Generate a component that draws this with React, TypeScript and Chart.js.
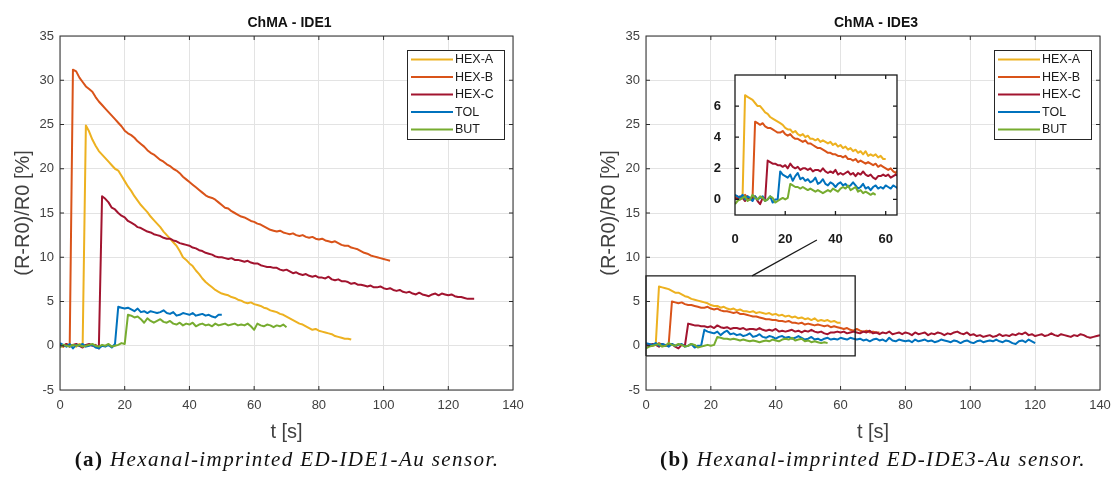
import { useEffect, useRef } from 'react';
import { Chart, registerables } from 'chart.js';

Chart.register(...registerables);

const FONT = '"Liberation Sans", Arial, sans-serif';

const SERIES_NAMES = ['HEX-A', 'HEX-B', 'HEX-C', 'TOL', 'BUT'];
const SERIES_COLORS = ['#EDB120', '#D95319', '#A2142F', '#0072BD', '#77AC30'];
const TIME_STEP = 1; // seconds between samples

const X_TICKS = [0, 20, 40, 60, 80, 100, 120, 140];
const Y_TICKS = [-5, 0, 5, 10, 15, 20, 25, 30, 35];
const INSET_X_TICKS = [0, 20, 40, 60];
const INSET_Y_TICKS = [0, 2, 4, 6];

// ---------- ChMA - IDE1 ----------
const IDE1_HEX_A = [
  0.1, -0.1, 0.2, 0.0, 0.1, -0.1, 0.2, 0.1,
  24.9, 24.2, 23.3, 22.6, 22.0, 21.6, 21.2, 20.8, 20.4, 20.0, 19.8, 19.2, 18.6, 18.0, 17.5, 16.9,
  16.4, 15.9, 15.5, 15.1, 14.6, 14.2, 13.8, 13.4, 12.9, 12.5, 12.1, 11.7, 11.3, 10.7, 10.0, 9.7,
  9.3, 9.0, 8.5, 8.1, 7.6, 7.2, 6.9, 6.6, 6.3, 6.1, 5.9, 5.8, 5.7, 5.5, 5.4, 5.2, 5.1, 4.9, 4.8,
  4.9, 4.7, 4.6, 4.5, 4.3, 4.2, 4.0, 3.9, 3.8, 3.6, 3.5, 3.3, 3.1, 2.9, 2.7, 2.5, 2.4, 2.2, 2.0,
  1.8, 1.9, 1.7, 1.6, 1.5, 1.4, 1.3, 1.1, 1.0, 0.9, 0.8, 0.8, 0.7,
];
const IDE1_HEX_B = [
  0.2, -0.1, 0.1, 0.0,
  31.2, 31.0, 30.3, 29.8, 29.3, 29.0, 28.7, 28.1, 27.6, 27.2, 26.8, 26.4, 26.0, 25.6, 25.2, 24.8,
  24.3, 24.0, 23.8, 23.5, 23.1, 22.8, 22.5, 22.1, 21.8, 21.6, 21.3, 21.0, 20.8, 20.5, 20.3, 20.0,
  19.8, 19.5, 19.1, 18.8, 18.5, 18.2, 17.9, 17.6, 17.3, 17.0, 16.8, 16.7, 16.5, 16.2, 15.9, 15.6,
  15.5, 15.2, 15.0, 14.8, 14.6, 14.5, 14.3, 14.1, 14.0, 13.8, 13.7, 13.5, 13.3, 13.1, 13.0, 12.9,
  13.0, 12.8, 12.7, 12.6, 12.7, 12.5, 12.4, 12.5, 12.3, 12.2, 12.3, 12.1, 12.0, 12.1, 11.9, 11.8,
  11.7, 11.8, 11.6, 11.4, 11.3, 11.3, 11.1, 11.0, 10.9, 10.7, 10.5, 10.4, 10.2, 10.1, 10.0, 9.9,
  9.8, 9.7, 9.6,
];
const IDE1_HEX_C = [
  0.1, 0.0, 0.2, -0.1, 0.1, 0.2, 0.0, -0.2, 0.1, 0.2, 0.0, 0.1, -0.3,
  16.9, 16.6, 16.2, 15.6, 15.4, 15.0, 14.7, 14.5, 14.1, 13.9, 13.7, 13.4, 13.3, 13.1, 12.9, 12.8,
  12.6, 12.5, 12.4, 12.2, 12.1, 12.1, 11.9, 11.8, 11.6, 11.5, 11.4, 11.3, 11.1, 11.0, 10.8, 10.7,
  10.5, 10.4, 10.3, 10.1, 10.0, 10.0, 9.9, 9.8, 9.9, 9.7, 9.7, 9.6, 9.5, 9.6, 9.4, 9.3, 9.3, 9.1,
  9.0, 8.9, 8.9, 8.8, 8.8, 8.6, 8.5, 8.6, 8.4, 8.2, 8.3, 8.1, 8.0, 8.1, 7.9, 7.8, 7.9, 7.7, 7.7,
  7.6, 7.8, 7.5, 7.4, 7.5, 7.3, 7.3, 7.2, 7.0, 7.1, 6.9, 6.9, 6.8, 6.7, 6.8, 6.6, 6.6, 6.7, 6.5,
  6.4, 6.5, 6.3, 6.2, 6.3, 6.1, 6.0, 6.1, 5.9, 5.8, 6.0, 5.8, 5.7, 5.6, 5.8, 5.9, 5.7, 5.9, 5.8,
  5.7, 5.8, 5.6, 5.5, 5.5, 5.4, 5.3, 5.3, 5.3,
];
const IDE1_TOL = [
  0.3, 0.1, -0.1, 0.2, -0.3, 0.1, 0.0, 0.2, -0.1, 0.0, 0.1, -0.2, -0.3, 0.0, -0.1, 0.1, -0.2, 0.2,
  4.4, 4.3, 4.2, 4.3, 4.1, 3.9, 4.2, 3.8, 3.9, 3.7, 3.9, 3.8, 3.7, 3.8, 4.0, 3.7, 3.6, 3.8, 3.4,
  3.5, 3.7, 3.6, 3.5, 3.7, 3.4, 3.5, 3.6, 3.4, 3.5, 3.3, 3.2, 3.5, 3.5,
];
const IDE1_BUT = [
  -0.2, 0.1, 0.0, -0.1, 0.1, 0.0, 0.1, -0.1, 0.0, 0.1, 0.2, 0.0, -0.1, 0.1, 0.0, 0.2, -0.1, 0.0,
  0.1, 0.3, 0.2,
  3.5, 3.4, 3.2, 3.3, 3.0, 2.6, 3.1, 2.8, 2.6, 2.8, 3.0, 2.7, 2.6, 2.8, 2.5, 2.4, 2.6, 2.3, 2.5,
  2.4, 2.6, 2.2, 2.4, 2.5, 2.3, 2.4, 2.2, 2.5, 2.3, 2.4, 2.5, 2.3, 2.4, 2.5, 2.3, 2.4, 2.3, 2.5,
  2.2, 1.8, 2.5, 2.3, 2.2, 2.4, 2.3, 2.1, 2.3, 2.2, 2.4, 2.1,
];

// ---------- ChMA - IDE3 ----------
const IDE3_HEX_A = [
  0.2, 0.0, 0.1, 0.1,
  6.7, 6.6, 6.5, 6.4, 6.2, 6.0, 6.0, 5.8, 5.6, 5.5, 5.3, 5.2, 5.1, 5.0, 4.9, 4.8, 4.6, 4.5, 4.5,
  4.3, 4.4, 4.2, 4.1, 4.2, 4.0, 4.1, 3.9, 3.9, 3.8, 3.9, 3.7, 3.8, 3.7, 3.6, 3.7, 3.5, 3.6, 3.4,
  3.5, 3.3, 3.4, 3.2, 3.3, 3.1, 3.2, 3.0, 3.1, 2.9, 3.1, 2.8, 2.9, 2.8, 2.9, 2.7, 2.8, 2.6, 2.6,
];
const IDE3_HEX_B = [
  0.1, 0.2, 0.0, 0.1, 0.3, 0.1, 0.0, 0.2,
  5.0, 4.9, 4.8, 4.9, 4.7, 4.6, 4.6, 4.5, 4.4, 4.3, 4.3, 4.4, 4.2, 4.1, 4.2, 4.0, 3.9, 3.9, 3.8,
  3.7, 3.8, 3.6, 3.6, 3.5, 3.4, 3.3, 3.3, 3.2, 3.1, 3.0, 3.0, 2.9, 2.9, 2.8, 2.8, 2.7, 2.8, 2.6,
  2.6, 2.5, 2.6, 2.4, 2.5, 2.4, 2.3, 2.4, 2.3, 2.2, 2.3, 2.1, 2.2, 2.1, 2.0, 1.9, 2.0, 1.8, 1.7,
  1.9, 1.7, 1.6, 1.7, 1.5, 1.6, 1.5, 1.5,
];
const IDE3_HEX_C = [
  0.1, 0.0, 0.2, 0.1, -0.1, 0.2, 0.0, 0.1, 0.2, -0.1, -0.3, 0.1, 0.0,
  2.5, 2.4, 2.3, 2.3, 2.2, 2.2, 2.1, 2.2, 2.0, 2.3, 2.1, 2.0, 2.1, 1.9, 2.0, 2.0, 1.9, 2.0, 1.8,
  1.9, 1.9, 1.8, 2.0, 1.8, 1.7, 1.8, 1.7, 1.9, 1.6, 1.7, 1.6, 1.7, 1.8, 1.6, 1.7, 1.5, 1.7, 1.6,
  1.8, 1.6, 1.5, 1.6, 1.4, 1.3, 1.5, 1.5, 1.6, 1.5, 1.6, 1.4, 1.5, 1.6, 1.5, 1.4, 1.6, 1.5, 1.7,
  1.4, 1.5, 1.3, 1.5, 1.4, 1.6, 1.3, 1.4, 1.5, 1.3, 1.5, 1.4, 1.2, 1.5, 1.3, 1.4, 1.5, 1.2, 1.4,
  1.3, 1.5, 1.4, 1.2, 1.4, 1.3, 1.5, 1.6, 1.4, 1.3, 1.5, 1.2, 1.3, 1.1, 1.2, 1.0, 1.1, 1.2, 1.0,
  1.1, 1.3, 1.1, 1.2, 1.1, 1.3, 1.2, 1.4, 1.3, 1.5, 1.2, 1.3, 1.1, 1.2, 1.3, 1.1, 1.2, 1.4, 1.2,
  1.1, 1.3, 1.2, 1.1, 1.0, 1.2, 1.1, 1.3, 1.2, 1.0, 0.9, 1.0, 1.1, 1.2, 1.2,
];
const IDE3_TOL = [
  0.3, 0.2, 0.1, 0.3, 0.0, 0.2, 0.1, -0.1, 0.2, 0.0, 0.1, 0.2, -0.1, 0.0, 0.2, -0.2, 0.0, 0.0,
  1.8, 1.6, 1.5, 1.4, 1.6, 1.2, 1.5, 1.7, 1.3, 1.4, 1.2, 1.3, 1.1, 1.2, 1.4, 1.0, 1.1, 1.3, 1.0,
  0.9, 1.1, 1.0, 0.8, 1.0, 1.1, 0.9, 1.0, 0.8, 0.9, 1.1, 0.9, 0.7, 0.8, 1.0, 0.7, 0.8, 0.6, 0.8,
  0.9, 0.7, 0.8, 0.7, 0.9, 0.8, 0.7, 0.9, 0.8, 0.7, 0.8, 0.6, 0.7, 0.5, 0.7, 0.8, 0.6, 0.7, 0.5,
  0.9, 0.6, 0.5, 0.7, 0.6, 0.5, 0.6, 0.4, 0.7, 0.5, 0.6, 0.7, 0.5, 0.6, 0.4, 0.5, 0.7, 0.6, 0.5,
  0.4, 0.6, 0.5, 0.3, 0.5, 0.6, 0.4, 0.3, 0.5, 0.6, 0.4, 0.5, 0.6, 0.5, 0.7, 0.5, 0.4, 0.6, 0.5,
  0.3, 0.2, 0.5, 0.6, 0.4, 0.7, 0.5, 0.3,
];
const IDE3_BUT = [
  -0.3, -0.1, 0.0, 0.1, 0.2, -0.1, 0.0, 0.3, 0.1, 0.0, 0.2, 0.1, -0.1, 0.0, 0.2, 0.1, -0.2, -0.1,
  0.0, 0.1, 0.0, 0.1,
  1.0, 0.9, 0.8, 0.8, 0.7, 0.8, 0.7, 0.6, 0.7, 0.6, 0.5, 0.6, 0.5, 0.4, 0.5, 0.6, 0.5, 0.7, 0.6,
  0.5, 0.7, 0.8, 0.7, 0.9, 0.6, 0.7, 0.8, 0.5, 0.6, 0.4, 0.5, 0.4, 0.3, 0.4, 0.3,
];

// zoom rectangle and connector in the IDE3 axes (data units)
const ZOOM_BOX_T = [0, 64.5, 64.5, 0, 0];
const ZOOM_BOX_V = [-1.15, -1.15, 7.9, 7.9, -1.15];
const CONNECTOR_T = [32.7, 52.7];
const CONNECTOR_V = [7.9, 11.95];

const IDE1_SERIES = [IDE1_HEX_A, IDE1_HEX_B, IDE1_HEX_C, IDE1_TOL, IDE1_BUT];
const IDE3_SERIES = [IDE3_HEX_A, IDE3_HEX_B, IDE3_HEX_C, IDE3_TOL, IDE3_BUT];

const toPoints = (vals: number[]) => vals.map((v, i) => ({ x: i * TIME_STEP, y: v }));
const zipPoints = (xs: number[], ys: number[]) => xs.map((x, i) => ({ x, y: ys[i] }));

const decorPlugin = {
  id: 'decor',
  beforeDraw(chart: any, _a: any, opts: any) {
    if (!opts.fillArea) return;
    const { ctx, chartArea: a } = chart;
    ctx.save();
    ctx.fillStyle = '#ffffff';
    ctx.fillRect(a.left, a.top, a.right - a.left, a.bottom - a.top);
    ctx.restore();
  },
  afterDatasetsDraw(chart: any, _a: any, opts: any) {
    const { ctx, chartArea: a, scales } = chart;
    ctx.save();
    ctx.strokeStyle = opts.frameColor || '#262626';
    ctx.lineWidth = opts.frameWidth || 1;
    ctx.strokeRect(a.left, a.top, a.right - a.left, a.bottom - a.top);
    const tl = opts.tickLen || 4;
    ctx.beginPath();
    scales.x.ticks.forEach((t: any) => {
      const px = scales.x.getPixelForValue(t.value);
      if (px <= a.left + 1 || px >= a.right - 1) return;
      ctx.moveTo(px, a.bottom);
      ctx.lineTo(px, a.bottom - tl);
      ctx.moveTo(px, a.top);
      ctx.lineTo(px, a.top + tl);
    });
    scales.y.ticks.forEach((t: any) => {
      const py = scales.y.getPixelForValue(t.value);
      if (py <= a.top + 1 || py >= a.bottom - 1) return;
      ctx.moveTo(a.left, py);
      ctx.lineTo(a.left + tl, py);
      ctx.moveTo(a.right, py);
      ctx.lineTo(a.right - tl, py);
    });
    ctx.stroke();

    if (opts.title) {
      ctx.fillStyle = '#111111';
      ctx.font = `bold 14px ${FONT}`;
      ctx.textAlign = 'center';
      ctx.textBaseline = 'middle';
      ctx.fillText(opts.title, (a.left + a.right) / 2 + 3, a.top - 12.5);
    }

    if (opts.legend) {
      const items = chart.data.datasets.filter((d: any) => d.inLegend);
      const boxW = 97;
      const rowH = 17.5;
      const boxH = 89;
      const x0 = a.right - 9 - boxW;
      const y0 = a.top + 14;
      ctx.fillStyle = '#ffffff';
      ctx.fillRect(x0, y0, boxW, boxH);
      ctx.strokeStyle = '#262626';
      ctx.lineWidth = 1;
      ctx.strokeRect(x0 + 0.5, y0 + 0.5, boxW, boxH);
      ctx.font = `12.5px ${FONT}`;
      ctx.textAlign = 'left';
      ctx.textBaseline = 'middle';
      items.forEach((d: any, i: number) => {
        const y = y0 + 9.5 + i * rowH;
        ctx.strokeStyle = d.borderColor;
        ctx.lineWidth = 2;
        ctx.beginPath();
        ctx.moveTo(x0 + 4, y);
        ctx.lineTo(x0 + 46, y);
        ctx.stroke();
        ctx.fillStyle = '#1a1a1a';
        ctx.fillText(d.label, x0 + 48, y + 0.5);
      });
    }
    ctx.restore();
  },
};

const seriesDatasets = (series: number[][]) =>
  series.map((vals, i) => ({
    label: SERIES_NAMES[i],
    data: toPoints(vals),
    borderColor: SERIES_COLORS[i],
    borderWidth: 2,
    pointRadius: 0,
    fill: false,
    tension: 0,
    borderJoinStyle: 'round',
    order: 10 - i,
    inLegend: true,
  }));

const noOverflow = (s: any) => {
  s.paddingLeft = 0;
  s.paddingRight = 0;
  s.paddingTop = 0;
  s.paddingBottom = 0;
};

function mainConfig(series: number[][], title: string, padLeft: number, padRight: number, withZoom: boolean) {
  const datasets: any[] = seriesDatasets(series);
  if (withZoom) {
    datasets.push({
      label: 'zoom box',
      data: zipPoints(ZOOM_BOX_T, ZOOM_BOX_V),
      borderColor: '#1a1a1a',
      borderWidth: 1.3,
      pointRadius: 0,
      fill: false,
      order: 0,
      clip: false,
    });
    datasets.push({
      label: 'connector',
      data: zipPoints(CONNECTOR_T, CONNECTOR_V),
      borderColor: '#1a1a1a',
      borderWidth: 1.3,
      pointRadius: 0,
      fill: false,
      order: 0,
      clip: false,
    });
  }
  return {
    type: 'line',
    data: { datasets },
    plugins: [decorPlugin],
    options: {
      animation: false,
      responsive: false,
      events: [],
      layout: { padding: { left: padLeft, right: padRight, top: 36, bottom: 0 } },
      plugins: {
        legend: { display: false },
        tooltip: { enabled: false },
        decor: { title, legend: true, frameColor: '#2b2b2b', frameWidth: 1, tickLen: 4 },
      },
      scales: {
        x: {
          type: 'linear',
          min: 0,
          max: 140,
          afterBuildTicks: (s: any) => { s.ticks = X_TICKS.map((v) => ({ value: v })); },
          afterFit: (s: any) => { s.height = 87; noOverflow(s); },
          ticks: { font: { size: 13, family: FONT }, color: '#404040', padding: 8, maxRotation: 0, autoSkip: false },
          grid: { color: '#e3e3e3', drawTicks: false },
          border: { display: false },
          title: {
            display: true,
            text: 't [s]',
            font: { size: 20, family: FONT },
            color: '#404040',
            padding: { top: 0, bottom: 33 },
          },
        },
        y: {
          type: 'linear',
          min: -5,
          max: 35,
          afterBuildTicks: (s: any) => { s.ticks = Y_TICKS.map((v) => ({ value: v })); },
          afterFit: (s: any) => { s.width = 60; noOverflow(s); },
          ticks: { font: { size: 13, family: FONT }, color: '#404040', padding: 6 },
          grid: { color: '#e3e3e3', drawTicks: false },
          border: { display: false },
          title: {
            display: true,
            text: '(R-R0)/R0 [%]',
            font: { size: 20, family: FONT },
            color: '#404040',
            padding: { top: 11.5, bottom: 0 },
          },
        },
      },
    },
  };
}

function insetConfig() {
  return {
    type: 'line',
    data: { datasets: seriesDatasets(IDE3_SERIES) },
    plugins: [decorPlugin],
    options: {
      animation: false,
      responsive: false,
      events: [],
      layout: { padding: { left: 0, right: 13, top: 15, bottom: 0 } },
      plugins: {
        legend: { display: false },
        tooltip: { enabled: false },
        decor: { fillArea: true, legend: false, frameColor: '#1a1a1a', frameWidth: 1.3, tickLen: 4 },
      },
      scales: {
        x: {
          type: 'linear',
          min: 0,
          max: 64.5,
          afterBuildTicks: (s: any) => { s.ticks = INSET_X_TICKS.map((v) => ({ value: v })); },
          afterFit: (s: any) => { s.height = 35; noOverflow(s); },
          ticks: { font: { size: 13, family: FONT, weight: 'bold' }, color: '#1a1a1a', padding: 9, maxRotation: 0, autoSkip: false },
          grid: { display: false },
          border: { display: false },
        },
        y: {
          type: 'linear',
          min: -1,
          max: 8,
          afterBuildTicks: (s: any) => { s.ticks = INSET_Y_TICKS.map((v) => ({ value: v })); },
          afterFit: (s: any) => { s.width = 35; noOverflow(s); },
          ticks: { font: { size: 13, family: FONT, weight: 'bold' }, color: '#1a1a1a', padding: 6 },
          grid: { display: false },
          border: { display: false },
        },
      },
    },
  };
}

const captionStyle: any = {
  position: 'absolute',
  top: 447,
  width: 560,
  textAlign: 'center',
  fontFamily: '"Liberation Serif", "DejaVu Serif", serif',
  fontSize: 21,
  letterSpacing: '1.4px',
  color: '#111',
  whiteSpace: 'nowrap',
};

export default function App() {
  const leftRef = useRef<HTMLCanvasElement>(null);
  const rightRef = useRef<HTMLCanvasElement>(null);
  const insetRef = useRef<HTMLCanvasElement>(null);

  useEffect(() => {
    const charts = [
      new Chart(leftRef.current as any, mainConfig(IDE1_SERIES, 'ChMA - IDE1', 0, 43, false) as any),
      new Chart(rightRef.current as any, mainConfig(IDE3_SERIES, 'ChMA - IDE3', 30, 12, true) as any),
      new Chart(insetRef.current as any, insetConfig() as any),
    ];
    return () => charts.forEach((c) => c.destroy());
  }, []);

  return (
    <div style={{ position: 'absolute', left: 0, top: 0, width: 1112, height: 477, background: '#ffffff', overflow: 'hidden' }}>
      <canvas ref={leftRef} width={556} height={477} style={{ position: 'absolute', left: 0, top: 0, display: 'block' }} />
      <canvas ref={rightRef} width={556} height={477} style={{ position: 'absolute', left: 556, top: 0, display: 'block' }} />
      <canvas ref={insetRef} width={210} height={190} style={{ position: 'absolute', left: 700, top: 60, display: 'block' }} />
      <div style={{ ...captionStyle, left: 287 - 280 }}>
        <b style={{ fontStyle: 'normal' }}>(a)</b> <i>Hexanal-imprinted ED-IDE1-Au sensor.</i>
      </div>
      <div style={{ ...captionStyle, left: 873 - 280 }}>
        <b style={{ fontStyle: 'normal' }}>(b)</b> <i>Hexanal-imprinted ED-IDE3-Au sensor.</i>
      </div>
    </div>
  );
}
